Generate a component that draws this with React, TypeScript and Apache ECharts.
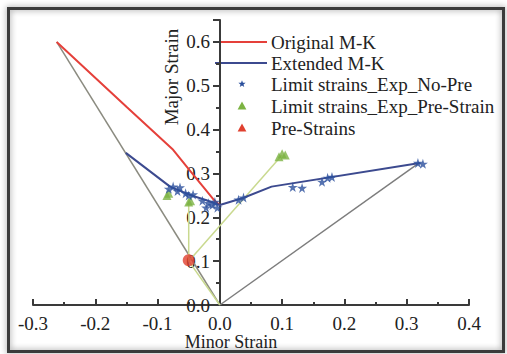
import React, { useEffect, useRef } from "react";
import * as echarts from "echarts";

// ---- data ----
const originalX = [-0.262, -0.15, -0.075, -0.05, -0.027, -0.008, 0.0];
const originalY = [0.6, 0.452, 0.354, 0.31, 0.27, 0.237, 0.228];

const extendedX = [-0.151, -0.08, -0.048, -0.024, 0.0, 0.037, 0.083, 0.321];
const extendedY = [0.347, 0.27, 0.251, 0.24, 0.228, 0.244, 0.27, 0.324];

const boundLeftX = [-0.262, 0.0];
const boundLeftY = [0.6, 0.0];
const boundRightX = [0.0, 0.32];
const boundRightY = [0.0, 0.324];

const preUniX = [0.0, -0.05];
const preUniY = [0.0, 0.1];
const prePathAX = [-0.05, -0.05];
const prePathAY = [0.1, 0.235];
const prePathBX = [-0.05, 0.1];
const prePathBY = [0.1, 0.342];

const noPreX = [-0.082, -0.075, -0.068, -0.064, -0.055, -0.05, -0.043, -0.028, -0.022, -0.018, -0.012, -0.008, -0.004, 0.03, 0.038, 0.117, 0.132, 0.164, 0.173, 0.18, 0.318, 0.326];
const noPreY = [0.265, 0.27, 0.26, 0.268, 0.255, 0.25, 0.252, 0.238, 0.222, 0.232, 0.228, 0.235, 0.222, 0.24, 0.245, 0.269, 0.267, 0.281, 0.29, 0.292, 0.324, 0.322];

const preStrainLimX = [-0.085, -0.082, -0.05, -0.047, 0.095, 0.1, 0.105];
const preStrainLimY = [0.25, 0.255, 0.235, 0.238, 0.338, 0.345, 0.342];

const preStrainX = [-0.05];
const preStrainY = [0.102];

const legendNames = [
  "Original M-K",
  "Extended M-K",
  "Limit strains_Exp_No-Pre",
  "Limit strains_Exp_Pre-Strain",
  "Pre-Strains",
];

const xTicks = { min: -0.3, max: 0.4, interval: 0.1 };
const yTicks = { min: 0, max: 0.65, interval: 0.1 };

const zip = (xs: number[], ys: number[]) => xs.map((x, i) => [x, ys[i]]);

const STAR = "path://M50,0 L61,35 L98,35 L68,57 L79,91 L50,70 L21,91 L32,57 L2,35 L39,35 Z";
const FONT = "'Liberation Serif', 'Times New Roman', serif";

const C = {
  red: "#e5403a",
  blue: "#3c4a8f",
  star: "#2a4f9c",
  green: "#7cb342",
  pale: "#c9d98f",
  preRed: "#e0402f",
  text: "#222",
  axis: "#3a3a3a",
};

function starPoints(cx: number, cy: number, r: number) {
  const pts: number[][] = [];
  for (let i = 0; i < 10; i++) {
    const a = -Math.PI / 2 + (i * Math.PI) / 5;
    const rr = i % 2 === 0 ? r : r * 0.42;
    pts.push([cx + rr * Math.cos(a), cy + rr * Math.sin(a)]);
  }
  return pts;
}
function triPoints(cx: number, cy: number, s: number) {
  return [
    [cx, cy - s * 0.55],
    [cx + s * 0.55, cy + s * 0.45],
    [cx - s * 0.55, cy + s * 0.45],
  ];
}

export default function App() {
  const ref = useRef<HTMLDivElement>(null);
  useEffect(() => {
    const chart = echarts.init(ref.current!, null, { renderer: "svg" });
    const lineSeries = (name: string, xs: number[], ys: number[], color: string, width: number, z: number) => ({
      name,
      type: "line",
      data: zip(xs, ys),
      symbol: "none",
      lineStyle: { color, width },
      itemStyle: { color },
      z,
    });

    // legend drawn as graphic (layout only; names from legendNames)
    const lx0 = 215, lx1 = 267, tx = 271, mx = 242;
    const rows = [42, 63, 84, 106, 128];
    const legendGraphic: any[] = [
      { type: "line", shape: { x1: lx0, y1: rows[0], x2: lx1, y2: rows[0] }, style: { stroke: C.red, lineWidth: 2 } },
      { type: "line", shape: { x1: lx0, y1: rows[1], x2: lx1, y2: rows[1] }, style: { stroke: C.blue, lineWidth: 2 } },
      { type: "polygon", shape: { points: starPoints(mx, rows[2], 3.8) }, style: { fill: C.star } },
      { type: "polygon", shape: { points: triPoints(mx, rows[3], 8) }, style: { fill: C.green } },
      { type: "polygon", shape: { points: triPoints(mx, rows[4], 8) }, style: { fill: C.preRed } },
      ...legendNames.map((n, i) => ({
        type: "text",
        x: tx,
        y: rows[i],
        style: { text: n, fontFamily: FONT, fontSize: 19, fill: C.text, align: "left", verticalAlign: "middle" },
      })),
    ];

    chart.setOption({
      animation: false,
      backgroundColor: "#ffffff",
      grid: { left: 33, right: 38, top: 20, bottom: 49 },
      xAxis: {
        type: "value",
        min: xTicks.min,
        max: xTicks.max,
        interval: xTicks.interval,
        splitLine: { show: false },
        axisLine: { lineStyle: { color: C.axis, width: 2 } },
        axisTick: { inside: true, length: 6, lineStyle: { color: C.axis, width: 2 } },
        minorTick: { show: true, splitNumber: 2, length: 3, lineStyle: { color: C.axis, width: 2 } },
        axisLabel: {
          fontFamily: FONT,
          fontSize: 19,
          color: C.text,
          margin: 9,
          formatter: (v: number) => v.toFixed(1),
        },
      },
      yAxis: {
        type: "value",
        min: yTicks.min,
        max: yTicks.max,
        interval: yTicks.interval,
        offset: -187,
        splitLine: { show: false },
        axisLine: { onZero: false, lineStyle: { color: C.axis, width: 2 } },
        axisTick: { length: 7, lineStyle: { color: C.axis, width: 2 } },
        minorTick: { show: true, splitNumber: 2, length: 4, lineStyle: { color: C.axis, width: 2 } },
        axisLabel: {
          fontFamily: FONT,
          fontSize: 19,
          color: C.text,
          margin: 10,
          formatter: (v: number) => (v > 0.61 ? "" : v.toFixed(1)),
        },
      },
      series: [
        lineSeries("boundLeft", boundLeftX, boundLeftY, "#8b8b80", 1.5, 1),
        lineSeries("boundRight", boundRightX, boundRightY, "#7d7d7d", 1.5, 1),
        lineSeries("preUni", preUniX, preUniY, C.pale, 1.5, 2),
        lineSeries("prePathA", prePathAX, prePathAY, C.pale, 1.5, 2),
        lineSeries("prePathB", prePathBX, prePathBY, C.pale, 1.5, 2),
        lineSeries(legendNames[0], originalX, originalY, C.red, 2, 3),
        lineSeries(legendNames[1], extendedX, extendedY, C.blue, 2, 4),
        {
          name: legendNames[2],
          type: "scatter",
          symbol: STAR,
          symbolSize: 10,
          data: zip(noPreX, noPreY),
          itemStyle: { color: C.star },
          z: 6,
        },
        {
          name: legendNames[3],
          type: "scatter",
          symbol: "triangle",
          symbolSize: 9,
          data: zip(preStrainLimX, preStrainLimY),
          itemStyle: { color: C.green },
          z: 5,
        },
        {
          name: legendNames[4],
          type: "scatter",
          symbol: "circle",
          symbolSize: 12,
          data: zip(preStrainX, preStrainY),
          itemStyle: { color: C.preRed },
          z: 7,
        },
      ],
      graphic: [
        ...legendGraphic,
        {
          type: "text",
          x: 171,
          y: 77,
          rotation: Math.PI / 2,
          style: {
            text: "Major Strain",
            fontFamily: FONT,
            fontSize: 19,
            fill: C.text,
            align: "center",
            verticalAlign: "middle",
          },
        },
        {
          type: "text",
          x: 231,
          y: 342,
          style: {
            text: "Minor Strain",
            fontFamily: FONT,
            fontSize: 18,
            fill: C.text,
            align: "center",
            verticalAlign: "middle",
          },
        },
        {
          type: "rect",
          shape: { x: 8.5, y: 8.5, width: 495, height: 343 },
          style: {
            fill: "none",
            stroke: "#3a3a3a",
            lineWidth: 3,
            shadowBlur: 6,
            shadowColor: "rgba(0,0,0,0.45)",
          },
          z: 100,
        },
      ],
    });
    return () => chart.dispose();
  }, []);
  return (
    <div
      ref={ref}
      style={{ position: "fixed", left: 0, top: 0, width: 507, height: 354, background: "#fff" }}
    />
  );
}
